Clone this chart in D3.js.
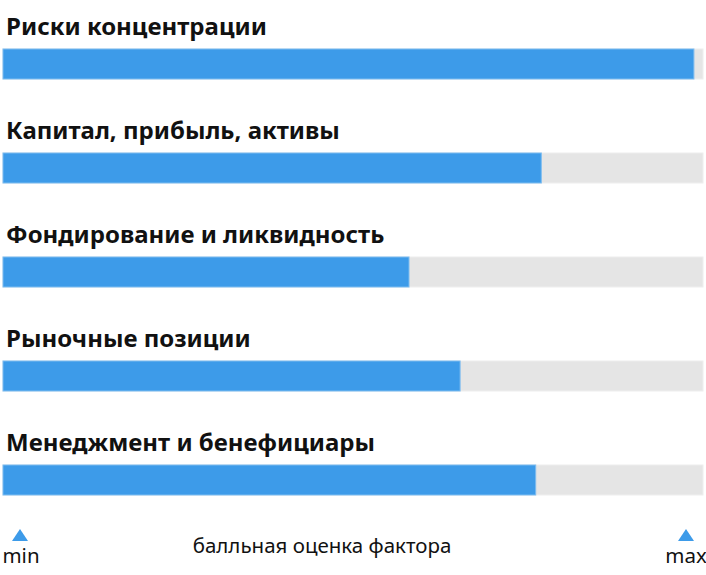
<!DOCTYPE html>
<html>
<head>
<meta charset="utf-8">
<script src="https://cdn.jsdelivr.net/npm/d3@7"></script>
<style>
  body { margin: 0; background: #fff; }
  text { font-family: "Noto Sans", sans-serif; }
</style>
</head>
<body>
<script>
const width = 706;
const height = 575;

const factors = [
  'Риски концентрации',
  'Капитал, прибыль, активы',
  'Фондирование и ликвидность',
  'Рыночные позиции',
  'Менеджмент и бенефициары',
];
const scores = [98.7, 76.9, 58.0, 65.3, 76.1];
const axisTitle = 'балльная оценка фактора';
const axisEnds = ['min', 'max'];

const svg = d3.select('body').append('svg').attr('width', width).attr('height', height);

const x = d3.scaleLinear().domain([0, 100]).range([3, 703]);
const y = d3.scaleBand().domain(factors).range([0, 520]).paddingInner(0);

const rows = svg
  .selectAll('.row')
  .data(factors)
  .enter()
  .append('g')
  .attr('class', 'row')
  .attr('transform', function (d) {
    return 'translate(0,' + y(d) + ')';
  });

rows
  .append('text')
  .attr('x', 6)
  .attr('y', 35)
  .attr('font-size', 24)
  .attr('font-weight', 700)
  .attr('fill', '#111')
  .text(function (d) {
    return d;
  });

// track
rows
  .append('rect')
  .attr('x', x(0))
  .attr('y', 49)
  .attr('width', x(100) - x(0))
  .attr('height', 30)
  .attr('fill', '#e5e5e5')
  .attr('stroke', '#eeeeee')
  .attr('stroke-width', 1);

// score bar
rows
  .append('rect')
  .attr('x', x(0))
  .attr('y', 49)
  .attr('width', function (d, i) {
    return x(scores[i]) - x(0);
  })
  .attr('height', 30)
  .attr('fill', '#3d9be9')
  .attr('stroke', '#7dbcf0')
  .attr('stroke-width', 1);

// bottom axis markers
const ends = svg
  .selectAll('.end')
  .data(axisEnds)
  .enter()
  .append('g')
  .attr('class', 'end')
  .attr('transform', function (d, i) {
    return 'translate(' + (i === 0 ? 20 : 686) + ',0)';
  });

ends
  .append('path')
  .attr('d', 'M0,529L8,541L-8,541Z')
  .attr('fill', '#3d9be9');

ends
  .append('text')
  .attr('x', function (d, i) {
    return i === 0 ? 1 : 0;
  })
  .attr('y', 563)
  .attr('text-anchor', 'middle')
  .attr('font-size', 20.5)
  .attr('fill', '#111')
  .text(function (d) {
    return d;
  });

svg
  .append('text')
  .attr('x', 322)
  .attr('y', 553)
  .attr('text-anchor', 'middle')
  .attr('font-size', 20.5)
  .attr('fill', '#111')
  .text(axisTitle);
</script>
</body>
</html>
